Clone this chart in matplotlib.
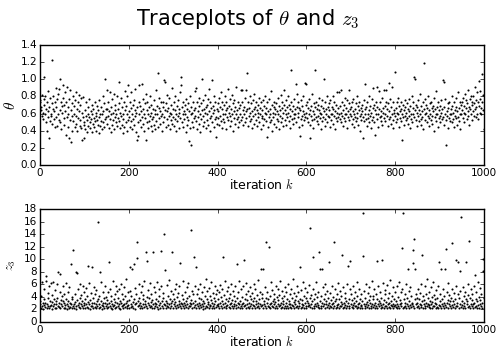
import numpy as np
import matplotlib
matplotlib.use('Agg')
import matplotlib.pyplot as plt

# theta samples, in hundredths, 200 iterations per block
theta_a = [73, 76, 64, 68, 57, 82, 61, 54, 77, 103, 70, 59, 80, 50, 65, 40, 74, 86, 56, 63, 32, 68, 78, 51, 60,
           57, 72, 48, 123, 65, 81, 54, 63, 44, 74, 90, 56, 68, 46, 77, 60, 83, 52, 89, 100, 64, 50, 73, 42, 69,
           61, 78, 93, 55, 70, 47, 85, 63, 35, 74, 56, 91, 44, 68, 59, 32, 77, 52, 87, 64, 27, 72, 57, 40, 81,
           51, 69, 60, 44, 76, 57, 85, 48, 65, 40, 73, 55, 82, 63, 46, 70, 52, 78, 43, 61, 29, 56, 79, 50, 32,
           47, 64, 42, 57, 74, 52, 39, 60, 68, 46, 56, 77, 50, 43, 63, 54, 70, 38, 59, 48, 65, 44, 55, 73, 51,
           57, 40, 61, 52, 69, 47, 64, 37, 56, 76, 46, 60, 51, 68, 42, 59, 80, 50, 63, 44, 72, 54, 100, 56, 65,
           87, 48, 65, 57, 73, 43, 63, 85, 54, 68, 38, 59, 77, 47, 61, 52, 83, 42, 64, 56, 70, 50, 60, 80, 46,
           55, 65, 97, 51, 72, 43, 61, 78, 57, 47, 68, 37, 60, 54, 74, 44, 64, 86, 50, 69, 40, 59, 81, 93, 52]
theta_b = [63, 56, 73, 44, 67, 51, 85, 60, 42, 70, 54, 76, 47, 64, 57, 89, 39, 61, 29, 68, 50, 34, 93, 59, 74,
           52, 69, 44, 63, 56, 95, 77, 48, 65, 40, 60, 72, 55, 83, 29, 64, 50, 73, 43, 59, 68, 51, 80, 57, 46,
           61, 70, 54, 40, 65, 56, 76, 47, 64, 42, 59, 87, 51, 69, 60, 107, 44, 67, 55, 78, 48, 63, 57, 73, 40,
           60, 68, 50, 74, 99, 56, 97, 64, 44, 72, 54, 82, 63, 47, 67, 57, 78, 42, 61, 52, 70, 59, 90, 48, 65,
           56, 73, 46, 64, 54, 81, 60, 40, 69, 51, 76, 57, 65, 43, 61, 85, 55, 103, 93, 50, 68, 59, 74, 44, 63,
           54, 70, 60, 38, 77, 56, 65, 47, 72, 52, 28, 63, 43, 80, 59, 68, 23, 50, 61, 74, 44, 64, 55, 86, 57,
           67, 90, 51, 73, 42, 63, 56, 78, 48, 69, 60, 39, 72, 54, 100, 64, 46, 76, 57, 65, 50, 82, 61, 43, 68,
           52, 70, 59, 77, 47, 89, 63, 55, 74, 40, 67, 57, 99, 50, 69, 61, 81, 44, 64, 54, 73, 56, 33, 65, 48]
theta_c = [72, 55, 63, 78, 47, 68, 57, 85, 51, 65, 43, 74, 60, 54, 70, 50, 80, 59, 64, 42, 73, 56, 67, 89, 52,
           61, 69, 46, 77, 57, 65, 51, 82, 60, 40, 72, 55, 76, 63, 48, 68, 59, 91, 54, 64, 44, 73, 56, 67, 50,
           70, 60, 87, 52, 74, 56, 88, 64, 47, 68, 59, 78, 50, 63, 88, 55, 107, 65, 46, 73, 57, 67, 51, 81, 61,
           54, 72, 63, 43, 76, 57, 65, 48, 83, 60, 68, 52, 74, 46, 64, 56, 70, 61, 50, 78, 59, 67, 42, 73, 55,
           64, 57, 76, 47, 69, 54, 61, 81, 51, 67, 59, 33, 73, 44, 63, 56, 77, 50, 65, 60, 86, 52, 70, 40, 61,
           56, 68, 48, 74, 59, 65, 44, 72, 54, 63, 78, 51, 60, 69, 42, 64, 57, 82, 50, 67, 55, 73, 61, 46, 70,
           87, 52, 64, 59, 76, 47, 68, 56, 61, 80, 51, 70, 43, 65, 57, 73, 111, 54, 63, 48, 69, 60, 77, 55, 65,
           59, 95, 50, 83, 68, 56, 73, 61, 44, 67, 34, 64, 54, 76, 57, 69, 47, 63, 81, 52, 60, 96, 56, 70, 94]
theta_d = [61, 55, 73, 50, 67, 59, 77, 32, 64, 47, 69, 57, 83, 52, 63, 43, 72, 60, 54, 68, 111, 56, 74, 51, 65,
           57, 70, 48, 64, 78, 55, 61, 42, 69, 59, 76, 51, 67, 56, 63, 100, 46, 73, 54, 65, 60, 81, 50, 68, 57,
           64, 56, 72, 44, 76, 60, 52, 68, 59, 80, 48, 65, 57, 73, 42, 63, 55, 70, 61, 85, 51, 67, 56, 85, 60,
           54, 69, 61, 88, 50, 74, 57, 64, 46, 70, 55, 78, 60, 51, 67, 59, 76, 43, 63, 56, 72, 52, 87, 60, 65,
           57, 68, 48, 73, 63, 54, 77, 59, 44, 65, 56, 72, 51, 81, 61, 55, 69, 47, 64, 74, 57, 40, 67, 60, 52,
           70, 63, 31, 56, 76, 51, 65, 59, 94, 54, 68, 46, 73, 60, 55, 80, 50, 64, 57, 69, 43, 61, 77, 52, 67,
           90, 56, 70, 50, 64, 35, 74, 59, 54, 68, 91, 60, 44, 65, 86, 56, 73, 51, 63, 57, 78, 47, 67, 61, 88,
           55, 69, 60, 51, 74, 88, 57, 65, 46, 72, 96, 54, 63, 56, 77, 48, 68, 59, 91, 43, 73, 52, 61, 64, 108]
theta_e = [57, 67, 50, 73, 61, 54, 78, 59, 44, 69, 63, 55, 74, 51, 65, 60, 29, 70, 56, 64, 47, 76, 57, 68, 52,
           61, 72, 55, 65, 48, 77, 57, 63, 43, 69, 60, 54, 81, 50, 67, 59, 73, 56, 103, 64, 100, 52, 70, 61, 46,
           68, 57, 76, 51, 64, 60, 83, 54, 69, 47, 63, 56, 73, 42, 119, 65, 59, 77, 52, 61, 70, 50, 67, 57, 80,
           55, 64, 46, 72, 60, 52, 74, 57, 67, 48, 69, 63, 40, 78, 56, 65, 59, 86, 51, 68, 60, 44, 73, 55, 64,
           57, 69, 50, 76, 61, 54, 65, 99, 56, 97, 47, 68, 60, 77, 52, 23, 63, 57, 72, 43, 67, 55, 74, 60, 51,
           65, 59, 81, 50, 69, 61, 54, 73, 44, 64, 57, 78, 55, 68, 47, 63, 85, 56, 67, 51, 74, 60, 42, 70, 59,
           64, 73, 55, 78, 61, 69, 50, 83, 59, 67, 76, 54, 72, 63, 87, 57, 68, 47, 77, 65, 60, 81, 52, 70, 74,
           63, 80, 57, 72, 91, 65, 56, 76, 68, 85, 60, 73, 54, 98, 69, 77, 61, 86, 67, 59, 106, 74, 64, 82, 42]

# z3 samples, in tenths
z3_a = [28, 33, 22, 41, 25, 63, 30, 21, 36, 27, 52, 24, 31, 65, 73, 23, 29, 46, 26, 38, 22, 58, 34, 25, 62,
        27, 43, 21, 32, 64, 25, 36, 29, 23, 51, 28, 34, 22, 60, 39, 26, 79, 31, 24, 47, 76, 22, 35, 28, 42,
        25, 33, 57, 22, 30, 44, 27, 23, 62, 36, 21, 29, 48, 26, 34, 23, 55, 31, 24, 92, 28, 40, 22, 37, 26,
        115, 29, 23, 45, 32, 26, 80, 21, 35, 78, 27, 52, 24, 31, 60, 22, 38, 28, 43, 25, 33, 58, 23, 30, 47,
        27, 36, 22, 54, 29, 41, 24, 90, 32, 23, 62, 28, 35, 21, 46, 26, 31, 87, 25, 39, 22, 56, 30, 24, 44,
        28, 23, 51, 33, 26, 37, 159, 22, 42, 29, 80, 24, 34, 63, 27, 21, 48, 31, 25, 38, 23, 57, 30, 26, 40,
        22, 35, 28, 47, 24, 31, 96, 26, 53, 23, 33, 41, 21, 29, 66, 25, 37, 27, 44, 22, 32, 58, 24, 30, 49,
        26, 39, 23, 52, 28, 34, 21, 61, 30, 25, 45, 27, 36, 22, 55, 29, 24, 42, 31, 68, 23, 33, 26, 48, 27]
z3_b = [35, 22, 50, 87, 29, 24, 41, 85, 26, 32, 23, 92, 37, 28, 54, 21, 30, 45, 127, 102, 25, 34, 60, 27, 39,
        23, 31, 47, 26, 58, 22, 36, 29, 43, 24, 66, 28, 33, 112, 25, 97, 40, 22, 51, 30, 27, 38, 24, 62, 32,
        26, 44, 23, 35, 112, 28, 55, 22, 31, 48, 25, 37, 29, 63, 24, 33, 21, 52, 27, 41, 30, 23, 57, 113, 34,
        25, 39, 22, 46, 29, 140, 83, 27, 34, 23, 59, 31, 26, 42, 24, 67, 28, 36, 22, 49, 30, 25, 112, 33, 44,
        23, 37, 28, 53, 25, 32, 61, 22, 40, 27, 46, 24, 34, 29, 57, 26, 94, 31, 23, 43, 28, 65, 25, 36, 30,
        22, 48, 27, 33, 24, 55, 29, 38, 23, 62, 26, 41, 31, 25, 147, 35, 28, 50, 22, 44, 30, 103, 24, 58, 27,
        34, 88, 23, 45, 29, 26, 52, 31, 22, 39, 27, 60, 24, 36, 28, 47, 25, 33, 21, 56, 30, 42, 23, 68, 26,
        37, 24, 49, 28, 32, 22, 54, 27, 41, 25, 35, 63, 23, 30, 46, 26, 38, 29, 22, 58, 33, 24, 44, 27, 51]
z3_c = [25, 36, 29, 47, 23, 31, 59, 26, 40, 22, 34, 52, 28, 103, 24, 43, 30, 65, 25, 37, 22, 49, 27, 33, 56,
        24, 39, 28, 45, 22, 31, 61, 26, 35, 23, 50, 29, 42, 25, 34, 57, 27, 22, 38, 92, 30, 47, 24, 66, 28,
        33, 23, 53, 26, 40, 29, 22, 58, 31, 25, 99, 36, 27, 44, 23, 62, 28, 35, 24, 49, 30, 22, 41, 26, 55,
        29, 37, 23, 46, 27, 33, 60, 25, 39, 22, 52, 28, 34, 24, 43, 31, 26, 67, 23, 36, 29, 48, 84, 25, 38,
        27, 44, 85, 23, 34, 29, 56, 25, 39, 127, 22, 31, 48, 26, 36, 24, 120, 28, 42, 23, 63, 30, 25, 51, 33,
        24, 37, 28, 45, 22, 32, 58, 26, 40, 23, 35, 29, 53, 25, 43, 27, 66, 22, 31, 38, 24, 49, 28, 34, 23,
        41, 26, 55, 23, 30, 47, 25, 36, 22, 61, 28, 33, 24, 44, 29, 52, 23, 38, 27, 69, 25, 32, 46, 22, 35,
        28, 42, 24, 57, 26, 33, 23, 48, 30, 25, 88, 37, 22, 51, 29, 35, 24, 63, 27, 41, 23, 31, 54, 26, 39]
z3_d = [22, 34, 47, 25, 30, 59, 27, 38, 150, 24, 43, 28, 33, 23, 52, 103, 26, 36, 22, 45, 29, 64, 25, 31, 40,
        24, 48, 27, 112, 23, 85, 33, 26, 42, 22, 85, 30, 56, 25, 37, 28, 44, 23, 61, 29, 34, 24, 50, 27, 39,
        31, 22, 96, 26, 46, 24, 35, 28, 58, 23, 40, 30, 25, 127, 33, 53, 22, 37, 27, 44, 24, 62, 29, 36, 23,
        49, 26, 32, 25, 41, 28, 106, 23, 55, 30, 24, 38, 27, 46, 22, 34, 60, 26, 31, 89, 25, 36, 23, 52, 97,
        28, 44, 24, 35, 27, 57, 22, 39, 30, 25, 48, 26, 33, 63, 23, 41, 29, 24, 53, 31, 22, 37, 27, 45, 25,
        34, 23, 173, 105, 29, 50, 25, 38, 22, 60, 28, 32, 24, 46, 27, 35, 23, 55, 30, 42, 26, 22, 66, 29, 37,
        24, 41, 27, 53, 23, 31, 45, 26, 36, 97, 22, 58, 28, 33, 25, 48, 30, 23, 39, 27, 98, 24, 62, 29, 35,
        22, 44, 26, 51, 25, 32, 23, 59, 28, 38, 24, 46, 30, 22, 67, 27, 34, 25, 42, 29, 23, 55, 26, 36, 48]
z3_e = [27, 33, 24, 57, 29, 22, 40, 26, 64, 23, 35, 28, 47, 25, 31, 52, 118, 22, 173, 37, 24, 44, 30, 26, 61,
        23, 38, 28, 84, 25, 49, 22, 33, 27, 56, 24, 42, 29, 31, 115, 94, 26, 133, 23, 36, 84, 28, 45, 24, 39,
        30, 25, 53, 22, 37, 28, 46, 24, 60, 27, 33, 106, 23, 41, 29, 35, 26, 58, 22, 44, 31, 25, 69, 28, 38,
        24, 47, 27, 34, 23, 55, 29, 40, 22, 32, 26, 63, 25, 43, 30, 36, 23, 51, 28, 24, 39, 22, 58, 27, 95,
        33, 26, 45, 84, 23, 37, 29, 52, 25, 41, 22, 31, 84, 27, 116, 24, 48, 30, 35, 23, 62, 28, 43, 25, 34,
        22, 39, 126, 27, 53, 24, 33, 29, 46, 23, 36, 26, 58, 98, 31, 25, 44, 95, 22, 38, 81, 28, 49, 167, 24,
        34, 27, 56, 23, 41, 30, 25, 47, 22, 36, 95, 28, 33, 61, 24, 43, 129, 26, 39, 23, 52, 29, 35, 25, 45,
        28, 22, 57, 31, 24, 75, 37, 26, 48, 23, 33, 64, 27, 40, 22, 54, 29, 35, 25, 44, 23, 31, 82, 100, 39]

theta = np.array(theta_a + theta_b + theta_c + theta_d + theta_e) / 100.0
z3 = np.array(z3_a + z3_b + z3_c + z3_d + z3_e) / 10.0

plt.style.use('classic')
plt.rcParams['mathtext.fontset'] = 'cm'

W, H = 496, 352
fig = plt.figure(figsize=(W / 100, H / 100), dpi=100, facecolor='white')

ax1 = fig.add_axes([40 / W, 1 - 165 / H, 444 / W, 120 / H])
ax2 = fig.add_axes([40 / W, 1 - 322 / H, 444 / W, 113 / H])

ax1.plot(np.arange(len(theta)), theta, 'k.', markersize=3, markeredgewidth=0)
ax2.plot(np.arange(len(z3)), z3, 'k.', markersize=3, markeredgewidth=0)

ax1.set_xlim(0, 1000)
ax1.set_ylim(0, 1.4)
ax1.set_yticks(np.arange(0, 1.41, 0.2))
ax2.set_xlim(0, 1000)
ax2.set_ylim(0, 18)
ax2.set_yticks(np.arange(0, 19, 2))

ax1.set_ylabel(r'$\theta$', fontsize=11, labelpad=2)
ax2.set_ylabel(r'$z_3$', fontsize=9, labelpad=4)
for ax in (ax1, ax2):
    ax.set_xlabel(r'iteration $k$', fontsize=9, labelpad=0)
    ax.tick_params(labelsize=7.5, length=3, pad=2)
    ax.set_facecolor('white')

fig.suptitle(r'Traceplots of $\theta$ and $z_3$', fontsize=15, y=0.98)

fig.savefig('out.png', dpi=100, facecolor='white')
